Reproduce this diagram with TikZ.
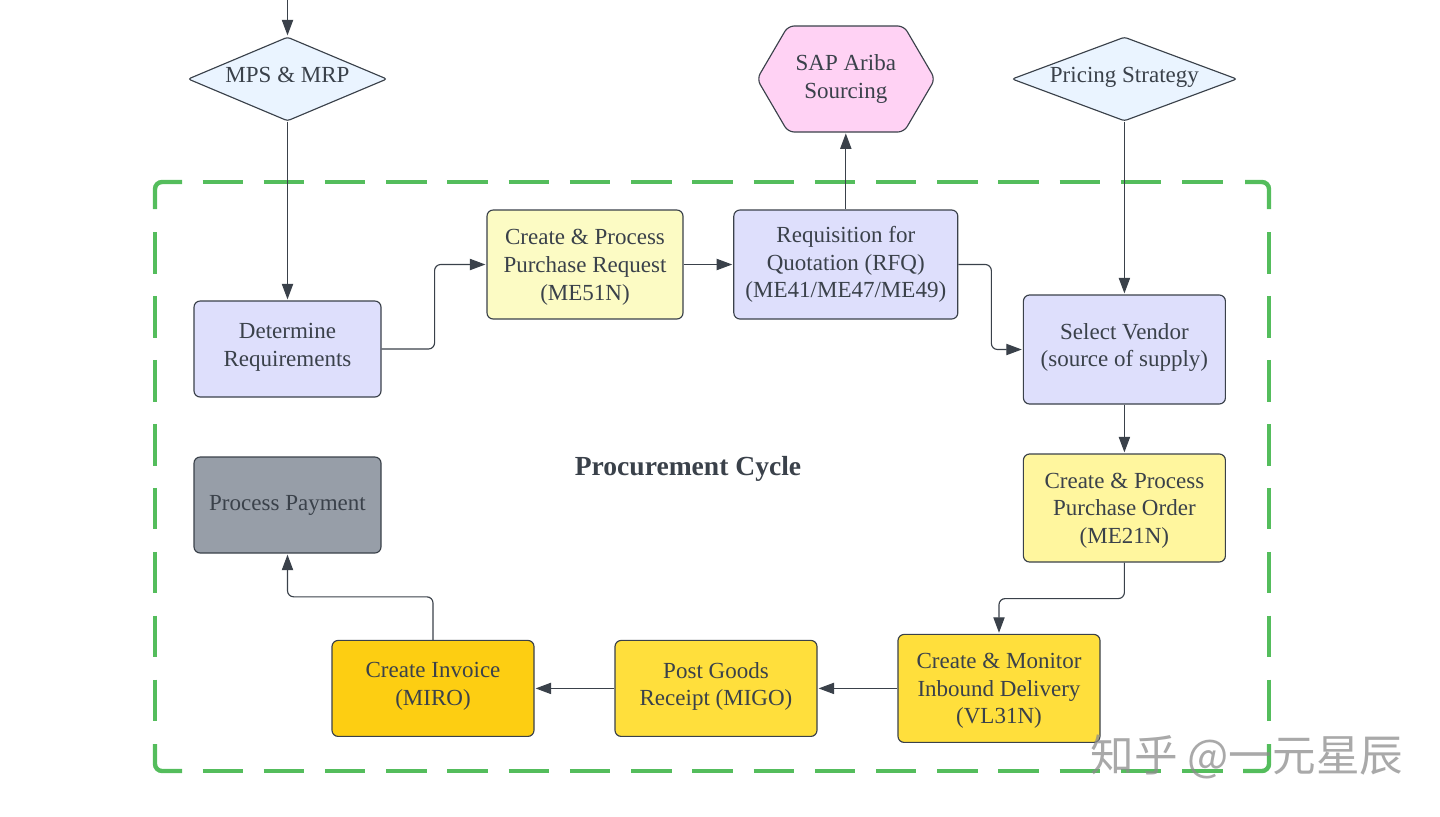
\documentclass[tikz,border=0pt]{standalone}
\usepackage{fontspec}
\setmainfont{Liberation Serif}
\newfontfamily\cjk{Noto Sans CJK SC}
\usetikzlibrary{arrows.meta,shapes.geometric}
\definecolor{inkdk}{RGB}{58,65,74}
\definecolor{frameg}{RGB}{84,189,92}
\definecolor{lilac}{RGB}{222,223,252}
\definecolor{paley}{RGB}{252,251,196}
\definecolor{midy}{RGB}{255,246,158}
\definecolor{goldy}{RGB}{255,223,60}
\definecolor{deepy}{RGB}{253,206,18}
\definecolor{slate}{RGB}{151,158,168}
\definecolor{skyb}{RGB}{234,244,255}
\definecolor{pinkh}{RGB}{255,210,244}
\tikzset{
  txt/.style={text=inkdk,font=\fontsize{13.1}{15.7}\selectfont,align=center,inner sep=0pt},
  stepbox/.style n args={3}{txt,draw=inkdk,line width=0.65pt,rounded corners=3.5pt,fill=#3,
    minimum width=#1*0.02cm,minimum height=#2*0.02cm},
  gate/.style n args={3}{txt,shape=diamond,draw=inkdk,line width=0.65pt,rounded corners=1.5pt,fill=skyb,
    minimum width=#1*0.02cm,minimum height=#2*0.02cm,aspect=#3},
  flow/.style={draw=inkdk,line width=0.65pt,rounded corners=3.5pt,shorten >=0.6pt,
    -{Triangle[length=8.8pt,width=6.4pt,fill=inkdk]}},
  frameline/.style={draw=frameg,line width=2.5pt},
  lowered/.style={text height=43.2pt},
  raised/.style={text depth=5pt},
}

\begin{document}
\begin{tikzpicture}[x=0.02cm,y=-0.02cm]
  \useasboundingbox (0,0) rectangle (1440,816);

  % dashed frame
  \draw[frameline,dash pattern=on 23pt off 11.85pt] (202.5,182) -- (1226,182);
  \draw[frameline,dash pattern=on 23pt off 11.85pt] (202.5,771) -- (1226,771);
  \draw[frameline,dash pattern=on 23.7pt off 12.7pt] (155,232) -- (155,730);
  \draw[frameline,dash pattern=on 23.7pt off 12.7pt] (1269,232) -- (1269,730);
  \draw[frameline,rounded corners=4pt] (155,209) -- (155,182) -- (182,182);
  \draw[frameline,rounded corners=4pt] (1245,182) -- (1269,182) -- (1269,209);
  \draw[frameline,rounded corners=4pt] (155,744) -- (155,771) -- (182,771);
  \draw[frameline,rounded corners=4pt] (1243,771) -- (1269,771) -- (1269,744);

  % inputs above the frame
  \coordinate (feed) at (287.5,0);
  \node[gate={199}{84}{2.37},text depth=4.9pt] (mps) at (287.5,79) {MPS \& MRP};
  \node[gate={225}{84}{2.68},text depth=5.2pt] (price) at (1124.4,79) {Pricing Strategy};
  \draw[draw=inkdk,line width=0.65pt,rounded corners=3.5pt,fill=pinkh]
    (757,79) -- (788,26) -- (904,26) -- (935,79) -- (904,132) -- (788,132) -- cycle;
  \node[txt,minimum width=176*0.02cm,minimum height=106*0.02cm] (sap) at (845.8,79) {SAP Ariba\\Sourcing};

  % top row
  \node[stepbox={187}{96}{lilac},raised] (det) at (287.5,349) {Determine\\Requirements};
  \node[stepbox={196}{109}{paley},lowered] (pr) at (585,264.5) {Create \& Process\\Purchase Request\\(ME51N)};
  \node[stepbox={224}{109}{lilac}] (rfq) at (845.8,264.5) {Requisition for\\Quotation (RFQ)\\(ME41/ME47/ME49)};
  \node[stepbox={202}{109}{lilac},raised] (ven) at (1124.4,349.5) {Select Vendor\\(source of supply)};

  % right side and bottom row
  \node[stepbox={202}{108}{midy},lowered] (po) at (1124.4,508) {Create \& Process\\Purchase Order\\(ME21N)};
  \node[stepbox={202}{108}{goldy},lowered] (inb) at (999,688.4) {Create \& Monitor\\Inbound Delivery\\(VL31N)};
  \node[stepbox={202}{96}{goldy},raised] (gr) at (716,688.4) {Post Goods\\Receipt (MIGO)};
  \node[stepbox={202}{96}{deepy},raised] (inv) at (433,688.4) {Create Invoice\\(MIRO)};
  \node[stepbox={187}{96}{slate}] (pay) at (287.5,505) {Process Payment};

  % title
  \node[txt,font=\fontsize{15.7}{18}\selectfont\bfseries] (title) at (688,469) {Procurement Cycle};

  % connectors
  \draw[flow] (feed) -- (mps.north);
  \draw[flow] (mps.south) -- (det.north);
  \draw[flow] (det.east) -- ++(53,0) |- (pr.west);
  \draw[flow] (pr.east) -- (rfq.west);
  \draw[flow] (rfq.north) -- (sap.south);
  \draw[flow] (rfq.east) -- ++(33,0) |- (ven.west);
  \draw[flow] (price.south) -- (ven.north);
  \draw[flow] (ven.south) -- (po.north);
  \draw[flow] (po.south) -- ++(0,36) -| (inb.north);
  \draw[flow] (inb.west) -- (gr.east);
  \draw[flow] (gr.west) -- (inv.east);
  \draw[flow] (inv.north) -- ++(0,-43) -| (pay.south);

  % watermark
  \node[inner sep=0pt,text=black!45,opacity=0.75,font=\cjk\fontsize{24.8}{28}\selectfont] (mark) at (1247,757) {知乎 @一元星辰};
\end{tikzpicture}
\end{document}
